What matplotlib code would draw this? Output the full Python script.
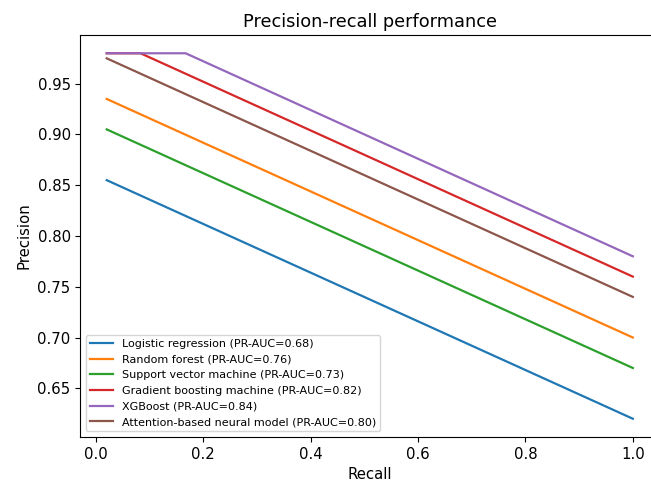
import matplotlib
matplotlib.use('Agg')
import matplotlib.pyplot as plt

# recall / precision points (straight segments)
lr_recall = [0.02, 1.0]
lr_precision = [0.855, 0.62]
rf_recall = [0.02, 1.0]
rf_precision = [0.935, 0.70]
svm_recall = [0.02, 1.0]
svm_precision = [0.905, 0.67]
gbm_recall = [0.02, 0.083, 1.0]
gbm_precision = [0.98, 0.98, 0.76]
xgb_recall = [0.02, 0.167, 1.0]
xgb_precision = [0.98, 0.98, 0.78]
att_recall = [0.02, 1.0]
att_precision = [0.975, 0.74]

labels = ['Logistic regression (PR-AUC=0.68)',
          'Random forest (PR-AUC=0.76)',
          'Support vector machine (PR-AUC=0.73)',
          'Gradient boosting machine (PR-AUC=0.82)',
          'XGBoost (PR-AUC=0.84)',
          'Attention-based neural model (PR-AUC=0.80)']

plt.rcParams['font.size'] = 10.7
plt.rcParams['lines.linewidth'] = 1.6

fig = plt.figure(figsize=(6.51, 4.86), dpi=100)
# the source image is cropped on the right, so the axes run past the edge
ax = fig.add_axes([0.1235, 0.1008, 0.889, 0.8272])

ax.plot(lr_recall, lr_precision, label=labels[0])
ax.plot(rf_recall, rf_precision, label=labels[1])
ax.plot(svm_recall, svm_precision, label=labels[2])
ax.plot(gbm_recall, gbm_precision, label=labels[3])
ax.plot(xgb_recall, xgb_precision, label=labels[4])
ax.plot(att_recall, att_precision, label=labels[5])

ax.set_xlabel('Recall')
ax.set_ylabel('Precision')
ax.set_title('Precision-recall performance', fontsize=12.8)
ax.legend(loc='lower left', fontsize=8)

fig.savefig('out.png', dpi=100)
